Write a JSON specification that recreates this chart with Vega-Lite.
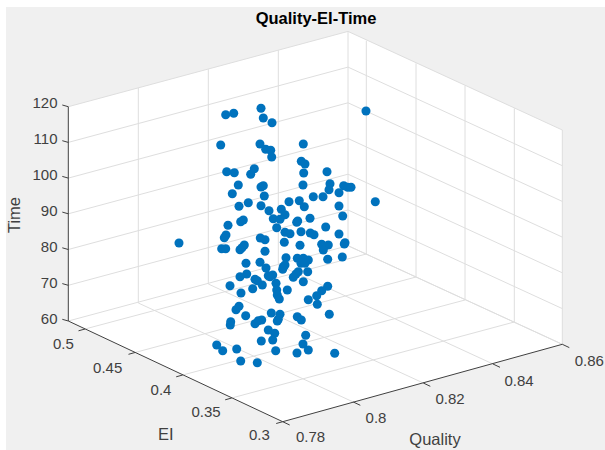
{"$schema":"https://vega.github.io/schema/vega-lite/v6.json","width":605,"height":450,"padding":0,"autosize":{"type":"none"},"background":"white","config":{"view":{"stroke":null}},
"datasets":{
"panel":[{"u":6,"u2":605,"v":7,"v2":450}],
"charttitle":[{"u":316,"v":24,"t":"Quality-EI-Time"}],
"walls":[{"u":68.3,"top":106.7,"bottom":321},{"u":282.7,"top":49,"bottom":421.7},{"u":348,"top":31.4,"bottom":403.6},{"u":562.3,"top":130,"bottom":344.3}],
"grid":[
{"u":68.3,"v":106.7,"u2":348,"v2":31.4},{"u":68.3,"v":142.4,"u2":348,"v2":67.1},{"u":68.3,"v":178.1,"u2":348,"v2":102.8},{"u":68.3,"v":213.8,"u2":348,"v2":138.5},{"u":68.3,"v":249.5,"u2":348,"v2":174.2},{"u":68.3,"v":285.3,"u2":348,"v2":210},{"u":68.3,"v":321,"u2":348,"v2":245.7},
{"u":348,"v":31.4,"u2":562.3,"v2":130},{"u":348,"v":67.1,"u2":562.3,"v2":165.7},{"u":348,"v":102.8,"u2":562.3,"v2":201.4},{"u":348,"v":138.5,"u2":562.3,"v2":237.1},{"u":348,"v":174.2,"u2":562.3,"v2":272.8},{"u":348,"v":210,"u2":562.3,"v2":308.6},{"u":348,"v":245.7,"u2":562.3,"v2":344.3},
{"u":138.3,"v":88,"u2":138.3,"v2":303},{"u":208.3,"v":69.3,"u2":208.3,"v2":284},{"u":278.3,"v":50.3,"u2":278.3,"v2":265},{"u":348,"v":31.4,"u2":348,"v2":245.7},
{"u":366.3,"v":40.7,"u2":366.3,"v2":254},{"u":416,"v":63.3,"u2":416,"v2":277},{"u":465,"v":85.7,"u2":465,"v2":300},{"u":514.3,"v":108.3,"u2":514.3,"v2":322},{"u":562.3,"v":130,"u2":562.3,"v2":344.3},
{"u":138.3,"v":303,"u2":353.3,"v2":402},{"u":208.3,"v":284,"u2":423.3,"v2":383},{"u":278.3,"v":265,"u2":493,"v2":364},{"u":348,"v":245.7,"u2":562.3,"v2":344.3},
{"u":85,"v":329,"u2":366.3,"v2":254},{"u":135,"v":352.5,"u2":416,"v2":277},{"u":182.7,"v":375,"u2":465,"v2":300},{"u":231.7,"v":398,"u2":514.3,"v2":322}],
"axes":[
{"u":68.3,"v":106.7,"u2":68.3,"v2":321},{"u":68.3,"v":321,"u2":282.7,"v2":421.7},{"u":282.7,"v":421.7,"u2":562.3,"v2":344.3},
{"u":68.3,"v":106.7,"u2":62.3,"v2":105},{"u":68.3,"v":142.4,"u2":62.3,"v2":140.7},{"u":68.3,"v":178.1,"u2":62.3,"v2":176.4},{"u":68.3,"v":213.8,"u2":62.3,"v2":212.1},{"u":68.3,"v":249.5,"u2":62.3,"v2":247.8},{"u":68.3,"v":285.3,"u2":62.3,"v2":283.6},{"u":68.3,"v":321,"u2":62.3,"v2":319.3},
{"u":85,"v":329,"u2":78.5,"v2":330.8},{"u":135,"v":352.5,"u2":128.5,"v2":354.3},{"u":182.7,"v":375,"u2":176.2,"v2":376.8},{"u":231.7,"v":398,"u2":225.2,"v2":399.8},{"u":282.7,"v":421.7,"u2":276.2,"v2":423.5},
{"u":282.7,"v":421.7,"u2":289.7,"v2":425},{"u":353.3,"v":402,"u2":360.3,"v2":405.3},{"u":423.3,"v":383,"u2":430.3,"v2":386.3},{"u":493,"v":364,"u2":500,"v2":367.3},{"u":562.3,"v":344.3,"u2":569.3,"v2":347.6}],
"zlabels":[{"u":57.5,"v":102.7,"t":"120"},{"u":57.5,"v":139,"t":"110"},{"u":57.5,"v":175,"t":"100"},{"u":57.5,"v":210.7,"t":"90"},{"u":57.5,"v":247,"t":"80"},{"u":57.5,"v":283,"t":"70"},{"u":57.5,"v":319,"t":"60"}],
"labels":[{"u":63.3,"v":344.3,"t":"0.5"},{"u":107.7,"v":367.7,"t":"0.45"},{"u":161,"v":390,"t":"0.4"},{"u":206,"v":412.3,"t":"0.35"},{"u":259.3,"v":435,"t":"0.3"},{"u":310.5,"v":436.7,"t":"0.78"},{"u":376,"v":417.7,"t":"0.8"},{"u":450,"v":399.3,"t":"0.82"},{"u":519,"v":380.7,"t":"0.84"},{"u":589.3,"v":361,"t":"0.86"}],
"titles":[{"u":165.7,"v":435,"t":"EI"},{"u":435,"v":440,"t":"Quality"}],
"ztitle":[{"u":15,"v":215,"t":"Time"}],
"points":[{"u":225.7,"v":114.7},{"u":233.7,"v":113.3},{"u":261,"v":108.3},{"u":263.3,"v":118},{"u":272,"v":122.7},{"u":366,"v":111},{"u":220.7,"v":145},{"u":260,"v":144},{"u":265.7,"v":149.3},{"u":270.7,"v":150.3},{"u":271.7,"v":157},{"u":303.3,"v":144},{"u":301.3,"v":161.3},{"u":305,"v":164},{"u":303.7,"v":173},{"u":327,"v":171.7},{"u":226.7,"v":171.7},{"u":234.3,"v":172.7},{"u":254.3,"v":168.7},{"u":250.7,"v":174.3},{"u":238.3,"v":185},{"u":232.3,"v":193.7},{"u":261,"v":187},{"u":263.3,"v":185.7},{"u":303,"v":185},{"u":330,"v":183.7},{"u":329,"v":189.7},{"u":343.7,"v":185.7},{"u":347.7,"v":187.3},{"u":351,"v":187.3},{"u":264.3,"v":196},{"u":239,"v":206.3},{"u":248.3,"v":202.7},{"u":261,"v":205.7},{"u":269,"v":210.7},{"u":281.3,"v":209.3},{"u":289,"v":201.7},{"u":299.3,"v":200.7},{"u":304.3,"v":206.7},{"u":313.3,"v":196.7},{"u":323,"v":196.7},{"u":339,"v":192.7},{"u":339,"v":206},{"u":375.3,"v":201.7},{"u":285,"v":214.7},{"u":273.3,"v":218.7},{"u":280,"v":219.3},{"u":297.7,"v":221},{"u":296.7,"v":222.3},{"u":310,"v":218.3},{"u":342.7,"v":216},{"u":228,"v":225.3},{"u":240.7,"v":221.7},{"u":243.3,"v":220},{"u":276.7,"v":227.7},{"u":325.7,"v":227},
{"u":285,"v":232.3},{"u":290,"v":233.7},{"u":301,"v":231.7},{"u":310.3,"v":233},{"u":314,"v":234.7},{"u":339,"v":234},{"u":226,"v":235},{"u":224.3,"v":237.7},{"u":260.3,"v":238},{"u":265,"v":239.7},{"u":284.3,"v":242.3},{"u":300,"v":245.3},{"u":345,"v":242.7},{"u":344.3,"v":244},{"u":321.7,"v":244.3},{"u":328.3,"v":245},{"u":324,"v":246.7},{"u":323.3,"v":250},{"u":221.7,"v":248.7},{"u":225.7,"v":248.7},{"u":244.3,"v":245},{"u":242,"v":247.7},{"u":240,"v":249.7},{"u":265,"v":251.3},{"u":286,"v":257.7},{"u":297.3,"v":258.3},{"u":303.3,"v":258.3},{"u":308.3,"v":260},{"u":327.7,"v":259.3},{"u":342.3,"v":257},{"u":246,"v":263.3},{"u":260,"v":262.3},{"u":266,"v":268},{"u":283.3,"v":266.7},{"u":285,"v":265},{"u":282.7,"v":269.3},{"u":301,"v":263.3},{"u":305,"v":263.3},{"u":298.3,"v":271.7},{"u":307.7,"v":271.7},{"u":296,"v":274},{"u":293.3,"v":277.3},{"u":246.7,"v":274},{"u":240,"v":276.7},{"u":255,"v":279.3},{"u":257.3,"v":280.7},{"u":268.3,"v":275.7},{"u":272.7,"v":275},{"u":270,"v":276.7},{"u":303.3,"v":281.7},{"u":230,"v":285.7},{"u":241,"v":293},{"u":252.7,"v":288.7},{"u":262.3,"v":285},{"u":276,"v":283.3},{"u":276.7,"v":290},{"u":277.3,"v":295},{"u":279.3,"v":299},{"u":287.3,"v":290},{"u":327.7,"v":286.3},{"u":321.7,"v":290.7},{"u":316.7,"v":295.7},{"u":308.3,"v":299.7},{"u":317.3,"v":304.3},{"u":239,"v":306.3},{"u":236,"v":309.7},{"u":245.7,"v":315.7},{"u":271.3,"v":313},{"u":280,"v":314.3},{"u":278.3,"v":319.3},{"u":277.3,"v":321},{"u":297.3,"v":316.7},{"u":301.3,"v":320},{"u":329.3,"v":314.3},{"u":230.7,"v":321.7},{"u":230.3,"v":325},{"u":255,"v":323.7},{"u":258.3,"v":320.7},{"u":261.7,"v":320},{"u":268.3,"v":330},{"u":274.7,"v":333.3},{"u":272.7,"v":340},{"u":261.3,"v":341},{"u":305.7,"v":335.3},{"u":303,"v":344},{"u":308.3,"v":350},{"u":297,"v":353},{"u":334.7,"v":353.3},{"u":275.7,"v":350.7},{"u":216.7,"v":345},{"u":222.7,"v":350.7},{"u":236.7,"v":349},{"u":240.7,"v":361},{"u":257.3,"v":362.7},{"u":179,"v":243}]
},
"encoding":{
"x":{"field":"u","type":"quantitative","axis":null,"scale":{"domain":[0,605],"range":[0,605],"nice":false,"zero":false}},
"y":{"field":"v","type":"quantitative","axis":null,"scale":{"domain":[0,450],"range":[0,450],"nice":false,"zero":false}}
},
"layer":[
{"data":{"name":"panel"},"mark":{"type":"rect","fill":"#f0f0f0"},"encoding":{"x2":{"field":"u2"},"y2":{"field":"v2"}}},
{"data":{"name":"walls"},"mark":{"type":"area","fill":"#ffffff","interpolate":"linear","opacity":1},"encoding":{"y":{"field":"top","type":"quantitative"},"y2":{"field":"bottom"}}},
{"data":{"name":"grid"},"mark":{"type":"rule","stroke":"#dedede","strokeWidth":1},"encoding":{"x2":{"field":"u2"},"y2":{"field":"v2"}}},
{"data":{"name":"axes"},"mark":{"type":"rule","stroke":"#404040","strokeWidth":1},"encoding":{"x2":{"field":"u2"},"y2":{"field":"v2"}}},
{"data":{"name":"charttitle"},"mark":{"type":"text","font":"Liberation Sans","fontSize":16.5,"fontWeight":"bold","color":"#000000","align":"center","baseline":"alphabetic"},"encoding":{"text":{"field":"t"}}},
{"data":{"name":"zlabels"},"mark":{"type":"text","font":"Liberation Sans","fontSize":15,"color":"#404040","align":"right","baseline":"middle"},"encoding":{"text":{"field":"t"}}},
{"data":{"name":"labels"},"mark":{"type":"text","font":"Liberation Sans","fontSize":15,"color":"#404040","align":"center","baseline":"middle"},"encoding":{"text":{"field":"t"}}},
{"data":{"name":"titles"},"mark":{"type":"text","font":"Liberation Sans","fontSize":16.5,"color":"#404040","align":"center","baseline":"middle"},"encoding":{"text":{"field":"t"}}},
{"data":{"name":"ztitle"},"mark":{"type":"text","font":"Liberation Sans","fontSize":16.5,"color":"#404040","align":"center","baseline":"middle","angle":270},"encoding":{"text":{"field":"t"}}},
{"data":{"name":"points"},"mark":{"type":"point","filled":true,"shape":"circle","size":82,"color":"#0072BD","opacity":1,"strokeWidth":0}}
]}
